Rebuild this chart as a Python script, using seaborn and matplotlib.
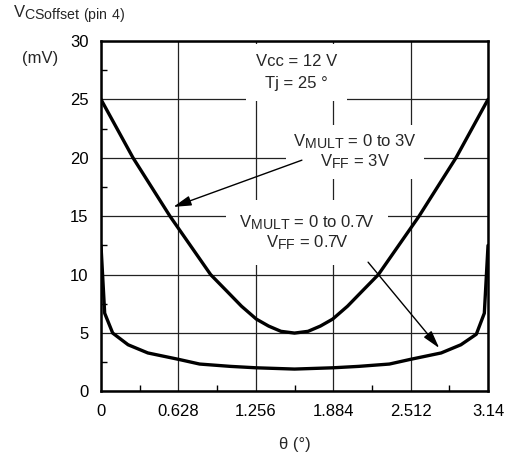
import matplotlib
matplotlib.use('Agg')
import matplotlib.pyplot as plt
import matplotlib._mathtext as mathtext_internal
import seaborn as sns
import pandas as pd

# curve for VMULT = 0 to 3V, VFF = 3V
theta_3v = [0, 0.26, 0.56, 0.89, 1.02, 1.14, 1.26, 1.36, 1.46, 1.57,
            1.68, 1.78, 1.88, 2.00, 2.12, 2.25, 2.58, 2.88, 3.14]
voff_3v = [25, 20, 15, 10, 8.6, 7.3, 6.2, 5.6, 5.15, 5.0,
           5.15, 5.6, 6.2, 7.3, 8.6, 10, 15, 20, 25]

# curve for VMULT = 0 to 0.7V, VFF = 0.7V
theta_07v = [0, 0.03, 0.095, 0.22, 0.38, 0.63, 0.80, 1.05, 1.256, 1.57,
             1.884, 2.09, 2.34, 2.51, 2.76, 2.92, 3.045, 3.11, 3.14]
voff_07v = [12.5, 6.7, 5.0, 4.0, 3.3, 2.75, 2.35, 2.15, 2.03, 1.92,
            2.03, 2.15, 2.35, 2.75, 3.3, 4.0, 4.9, 6.7, 12.5]

x_ticks = [0, 0.628, 1.256, 1.884, 2.512, 3.14]
x_tick_labels = ['0', '0.628', '1.256', '1.884', '2.512', '3.14']
x_minor = [0.314, 0.942, 1.57, 2.198, 2.826]
y_ticks = [0, 5, 10, 15, 20, 25, 30]
y_minor = [2.5, 7.5, 12.5, 17.5, 22.5, 27.5]

df_3v = pd.DataFrame({'theta': theta_3v, 'v': voff_3v})
df_07v = pd.DataFrame({'theta': theta_07v, 'v': voff_07v})

sns.set_style('white')
plt.rcParams['font.family'] = ['Liberation Sans', 'DejaVu Sans']
plt.rcParams['mathtext.default'] = 'regular'
plt.rcParams['font.size'] = 12
# subscripts in the datasheet are only a little smaller than the main text
mathtext_internal.SHRINK_FACTOR = 0.85

fig = plt.figure(figsize=(5.2, 4.58), dpi=100)
ax = fig.add_axes([0.1942, 0.1452, 0.7443, 0.7653])

sns.lineplot(data=df_3v, x='theta', y='v', color='black', lw=2.4,
             sort=False, estimator=None, ax=ax, zorder=4)
sns.lineplot(data=df_07v, x='theta', y='v', color='black', lw=2.4,
             sort=False, estimator=None, ax=ax, zorder=4)

ax.set_xlim(0, 3.14)
ax.set_ylim(0, 30)
ax.set_xticks(x_ticks)
ax.set_xticklabels(x_tick_labels)
ax.set_xticks(x_minor, minor=True)
ax.set_yticks(y_ticks)
ax.set_yticks(y_minor, minor=True)
ax.tick_params(which='major', length=0, pad=9, labelsize=12, colors='black')
ax.tick_params(which='minor', direction='in', length=4, width=1, color='black')
ax.tick_params(axis='x', which='minor', bottom=True)
ax.tick_params(axis='y', which='minor', left=True)
ax.grid(True, which='major', color='#222222', lw=0.9)
ax.set_axisbelow(True)
for s in ax.spines.values():
    s.set_color('black')
    s.set_linewidth(1.8)
    s.set_zorder(6)

ax.set_xlabel('θ (°)', fontsize=12, labelpad=13)
ax.set_ylabel('')

ax.text(1.587, 27.3, 'Vcc = 12 V\nTj = 25 °', ha='center', va='center',
        ma='center', linespacing=1.6,
        bbox=dict(boxstyle='square,pad=0.6', fc='white', ec='none'), zorder=3)
ax.text(2.06, 20.5, 'V$_{MULT}$ = 0 to 3V\nV$_{FF}$ = 3V', ha='center', va='center',
        ma='center', linespacing=1.1,
        bbox=dict(boxstyle='square,pad=0.45', fc='white', ec='none'), zorder=3)
ax.text(1.67, 13.6, 'V$_{MULT}$ = 0 to 0.7V\nV$_{FF}$ = 0.7V', ha='center', va='center',
        ma='center', linespacing=1.1,
        bbox=dict(boxstyle='square,pad=0.8', fc='white', ec='none'), zorder=3)

arrow = dict(arrowstyle='-|>,head_length=0.9,head_width=0.25', lw=1.0, color='black',
             shrinkA=0, shrinkB=0)
ax.annotate('', xy=(0.587, 15.8), xytext=(1.63, 19.8), arrowprops=arrow, zorder=5)
ax.annotate('', xy=(2.744, 3.72), xytext=(2.167, 11.07), arrowprops=arrow, zorder=5)

fig.text(13 / 520, 1 - 18 / 458, 'V$_{CSoffset\\ (pin\\ 4)}$', fontsize=12, va='baseline')
fig.text(22 / 520, 1 - 58 / 458, '(mV)', fontsize=12, va='center')

fig.savefig('out.png', dpi=100)
